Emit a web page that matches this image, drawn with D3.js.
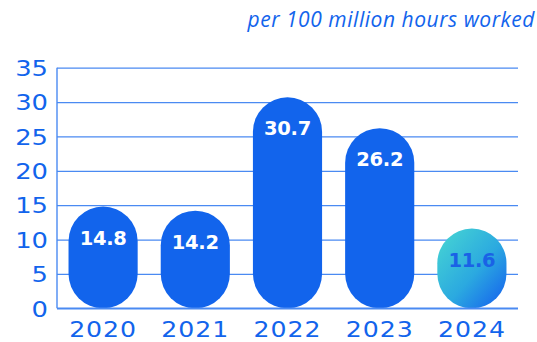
<!DOCTYPE html>
<html>
<head>
<meta charset="utf-8">
<script src="https://cdn.jsdelivr.net/npm/d3@7"></script>
<style>
  html, body { margin: 0; padding: 0; background: #ffffff; }
  svg { display: block; }
</style>
</head>
<body>
<svg id="chart" width="537" height="342"></svg>
<script>
// Injury rate per 100 million hours worked, by year
const years = ["2020", "2021", "2022", "2023", "2024"];
const rates = [14.8, 14.2, 30.7, 26.2, 11.6];
const yTicks = [0, 5, 10, 15, 20, 25, 30, 35];
const subtitle = "per 100 million hours worked";

const blue = "#1264ec";
const gridBlue = "#4a8af2";
const wide = 1.2; // horizontal stretch for the axis numerals

const svg = d3.select("#chart");
const plot = { left: 57, right: 518, top: 67.7, bottom: 308.3 };

const x = d3.scaleBand()
  .domain(years)
  .range([plot.left, plot.right])
  .paddingInner(0.25)
  .paddingOuter(0.125);

const y = d3.scaleLinear()
  .domain([0, 35])
  .range([plot.bottom, plot.top]);

// gradient for the latest year
const defs = svg.append("defs");
const grad = defs.append("linearGradient")
  .attr("id", "latestGrad")
  .attr("x1", "0%").attr("y1", "0%")
  .attr("x2", "100%").attr("y2", "100%");
grad.append("stop").attr("offset", "0%").attr("stop-color", "#48d8d2");
grad.append("stop").attr("offset", "55%").attr("stop-color", "#2ba9e0");
grad.append("stop").attr("offset", "100%").attr("stop-color", "#135cef");

// subtitle, spread to span its column
const sub = svg.append("text")
  .attr("x", 535)
  .attr("y", 27)
  .attr("text-anchor", "end")
  .attr("font-family", "'Open Sans', sans-serif")
  .attr("font-style", "italic")
  .attr("font-size", 21)
  .attr("fill", blue)
  .text(subtitle);
const subW = sub.node().getComputedTextLength();
sub.attr("letter-spacing", Math.max(0, (287 - subW) / (subtitle.length - 1)));

// horizontal gridlines + y axis
const yAxis = d3.axisLeft(y)
  .tickValues(yTicks)
  .tickSize(-(plot.right - plot.left))
  .tickPadding(0)
  .tickFormat(d3.format("d"));

const gy = svg.append("g")
  .attr("transform", `translate(${plot.left},0)`)
  .call(yAxis);
gy.select(".domain").remove();
gy.selectAll(".tick line")
  .attr("stroke", gridBlue)
  .attr("stroke-width", 1.2);
gy.selectAll(".tick text")
  .attr("x", -9 / wide)
  .attr("transform", `scale(${wide},1)`)
  .attr("fill", blue)
  .attr("font-family", "'DejaVu Sans', sans-serif")
  .attr("font-size", 21.5)
  .attr("dy", "0.36em");

// left axis line
svg.append("line")
  .attr("x1", plot.left).attr("x2", plot.left)
  .attr("y1", plot.top).attr("y2", plot.bottom)
  .attr("stroke", gridBlue)
  .attr("stroke-width", 1.4);

// bars as pills
const bw = x.bandwidth();
const rows = years.map((yr, i) => ({ yr, v: rates[i], i }));
svg.append("g")
  .selectAll("rect")
  .data(rows)
  .join("rect")
  .attr("x", d => x(d.yr))
  .attr("y", d => y(d.v))
  .attr("width", bw)
  .attr("height", d => y(0) - y(d.v))
  .attr("rx", bw / 2)
  .attr("ry", bw / 2)
  .attr("fill", d => d.i === years.length - 1 ? "url(#latestGrad)" : blue);

// value labels inside bars
svg.append("g")
  .selectAll("text")
  .data(rows)
  .join("text")
  .attr("x", d => x(d.yr) + bw / 2)
  .attr("y", d => y(d.v) + 31)
  .attr("dy", "0.36em")
  .attr("text-anchor", "middle")
  .attr("font-family", "'DejaVu Sans', sans-serif")
  .attr("font-weight", "bold")
  .attr("font-size", 19.5)
  .attr("letter-spacing", -0.3)
  .attr("fill", d => d.i === years.length - 1 ? "#1a62e6" : "#ffffff")
  .text(d => d3.format(".1f")(d.v));

// x axis
const xAxis = d3.axisBottom(x).tickSize(0).tickPadding(14);
const gx = svg.append("g")
  .attr("transform", `translate(0,${plot.bottom})`)
  .call(xAxis);
gx.select(".domain").remove();
gx.selectAll(".tick text")
  .attr("transform", `scale(${wide},1)`)
  .attr("fill", blue)
  .attr("font-family", "'DejaVu Sans', sans-serif")
  .attr("font-size", 21)
  .attr("letter-spacing", 0.8);

svg.append("line")
  .attr("x1", plot.left).attr("x2", plot.right)
  .attr("y1", plot.bottom).attr("y2", plot.bottom)
  .attr("stroke", gridBlue)
  .attr("stroke-width", 1.4);
</script>
</body>
</html>
